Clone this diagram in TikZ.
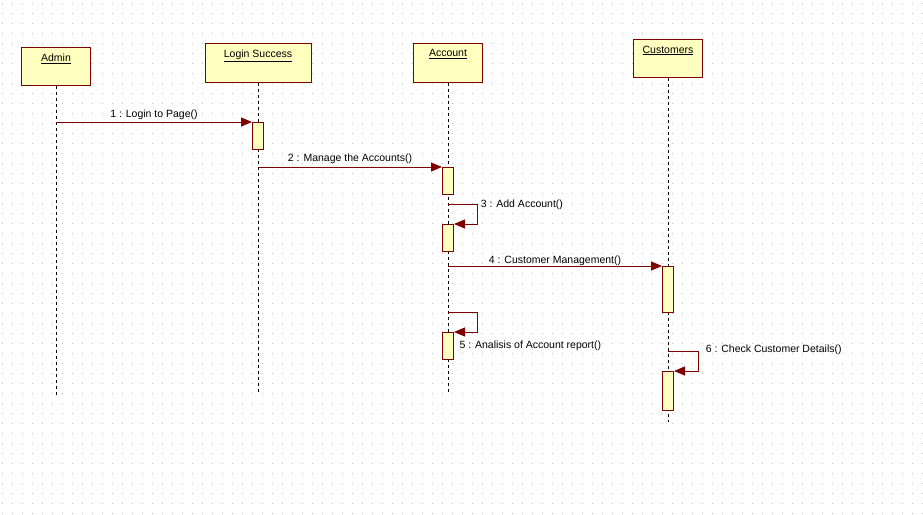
\documentclass[tikz,border=0pt]{standalone}
\usepackage{fontspec}
\setmainfont{Liberation Sans}
\usetikzlibrary{arrows.meta, positioning}

\definecolor{umlred}{RGB}{128,0,0}
\definecolor{umlyellow}{RGB}{255,255,192}
\definecolor{griddot}{RGB}{190,190,190}

\begin{document}
\begin{tikzpicture}[
      x=1pt, y=-1pt,
      font=\fontsize{10.5}{12}\selectfont,
      object/.style={rectangle, draw=umlred, fill=umlyellow, line width=1pt, minimum width=69pt, minimum height=38pt, inner sep=0pt},
      activation/.style={rectangle, draw=umlred, fill=umlyellow, line width=1pt, minimum width=11pt, anchor=north, inner sep=0pt},
      lifeline/.style={draw, line width=0.8pt, dash pattern=on 3pt off 3pt},
      msg/.style={draw=umlred, line width=1pt, -{Triangle[length=11pt, width=9pt]}},
      caption/.style={anchor=north, inner sep=0pt, yshift=-7pt}
    ]

    % Background and dotted grid
    \useasboundingbox[fill=white] (0,0) rectangle (923,514);
    \foreach \y in {3,13,...,513}
      \draw[griddot, line width=1pt, dash pattern=on 1pt off 9pt] (2,\y) -- (923,\y);

    % Objects
    \node[object] (admin) at (56,66) {};
    \node[object, minimum width=106pt, minimum height=39pt] (login) at (258,62.5) {};
    \node[object, minimum height=39pt] (account) at (448,62.5) {};
    \node[object] (customers) at (668,58) {};
    \node[caption] at (admin.north) {\underline{Admin}};
    \node[caption] at (login.north) {\underline{Login Success}};
    \node[caption] at (account.north) {\underline{Account}};
    \node[caption] at (customers.north) {\underline{Customers}};

    % Lifelines
    \draw[lifeline] (admin.south) -- (admin |- 0,395);
    \draw[lifeline] (login.south) -- (login |- 0,392);
    \draw[lifeline] (account.south) -- (account |- 0,392);
    \draw[lifeline] (customers.south) -- (customers |- 0,422);

    % Activations
    \node[activation, minimum height=27pt] (loginact) at (login |- 0,122) {};
    \node[activation, minimum height=27pt] (accact1) at (account |- 0,167) {};
    \node[activation, minimum height=27pt] (accact2) at (account |- 0,224) {};
    \node[activation, minimum height=27pt] (accact3) at (account |- 0,332) {};
    \node[activation, minimum height=46pt] (custact1) at (customers |- 0,266) {};
    \node[activation, minimum height=39pt] (custact2) at (customers |- 0,371) {};

    % Messages
    \draw[msg] (admin |- loginact.north) -- (loginact.north west) node[midway, above, yshift=-2pt, black] {1 : Login to Page()};
    \draw[msg] (login |- accact1.north) -- (accact1.north west) node[midway, above, yshift=-1pt, black] {2 : Manage the Accounts()};
    \draw[msg] (account |- 0,204) -- ++(29,0) node[right, yshift=-1pt, black] {3 : Add Account()} |- (accact2.north east);
    \draw[msg] (account |- custact1.north) -- (custact1.north west) node[midway, above, yshift=-4pt, black] {4 : Customer Management()};
    \draw[msg] (account |- 0,312) -- ++(29,0) |- (accact3.north east);
    \node[right, xshift=2pt] (lbl5) at (accact3.east) {5 : Analisis of Account report()};
    \draw[msg] (customers |- 0,351) -- ++(30,0) node[right, yshift=1pt, xshift=4pt, black] {6 : Check Customer Details()} |- (custact2.north east);
  \end{tikzpicture}
\end{document}
